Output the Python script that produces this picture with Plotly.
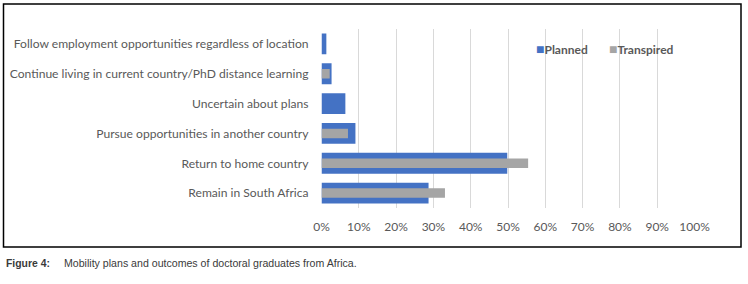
import plotly.graph_objects as go

categories = [
    "Follow employment opportunities regardless of location",
    "Continue living in current country/PhD distance learning",
    "Uncertain about plans",
    "Pursue opportunities in another country",
    "Return to home country",
    "Remain in South Africa",
]
planned = [1.3, 2.7, 6.4, 9.1, 49.8, 28.7]
transpired = [0, 2.2, 0, 7.1, 55.4, 33.1]
series_names = ["Planned", "Transpired"]
series_colors = ["#4472C4", "#A5A5A5"]
x_ticks = [0, 10, 20, 30, 40, 50, 60, 70, 80, 90, 100]
x_ticklabels = [f"{v}%" for v in x_ticks]

W, H = 748, 284
FONT = "Lato"
GREY_TXT = "#595959"

fig = go.Figure()
fig.add_trace(go.Bar(
    y=categories, x=planned, orientation="h", name=series_names[0],
    marker=dict(color=series_colors[0], line=dict(width=0)), width=0.7, showlegend=False,
))
fig.add_trace(go.Bar(
    y=categories, x=transpired, orientation="h", name=series_names[1],
    marker=dict(color=series_colors[1], line=dict(width=0)), width=0.32, showlegend=False,
))
# legend entries (coloured square + label)
for nm, col in zip(series_names, series_colors):
    fig.add_trace(go.Scatter(
        x=[None], y=[None], mode="markers",
        marker=dict(size=1, color="rgba(0,0,0,0)"),
        name=f"<span style='color:{col};font-size:14px'>■</span>{nm}", showlegend=True,
    ))
# spacer entry so the last label is not clipped by the fixed entry width
fig.add_trace(go.Scatter(x=[None], y=[None], mode="markers",
                         marker=dict(size=1, color="rgba(0,0,0,0)"),
                         name=" ", showlegend=True, hoverinfo="skip"))

x0, x1 = 321.5, 694.5
ytop, ybot = 29, 208
fig.update_layout(
    width=W, height=H, autosize=False,
    margin=dict(l=0, r=0, t=0, b=0, autoexpand=False),
    paper_bgcolor="white", plot_bgcolor="white",
    barmode="overlay",
    font=dict(family=FONT, size=12, color=GREY_TXT),
    xaxis=dict(
        domain=[x0 / W, x1 / W], range=[0, 100], automargin=False,
        tickvals=x_ticks, ticktext=x_ticklabels,
        showgrid=True, gridcolor="#D9D9D9", gridwidth=1,
        zeroline=False, showline=False, ticks="",
        tickfont=dict(family=FONT, size=12, color=GREY_TXT),
        ticklabelstandoff=10, fixedrange=True,
    ),
    yaxis=dict(
        domain=[1 - ybot / H, 1 - ytop / H], automargin=False,
        categoryorder="array", categoryarray=categories[::-1],
        showgrid=False, zeroline=False, showline=False, ticks="",
        tickfont=dict(family=FONT, size=12.1, color=GREY_TXT),
        ticklabelstandoff=12, fixedrange=True,
    ),
    legend=dict(
        orientation="h", x=496 / W, y=1 - 35 / H, xanchor="left", yanchor="top",
        bgcolor="rgba(0,0,0,0)", borderwidth=0,
        font=dict(family=FONT, size=12, color=GREY_TXT, weight="bold"),
        traceorder="normal", itemwidth=30, entrywidth=28, entrywidthmode="pixels",
    ),
    showlegend=True,
)

# white panel behind the legend (covers the gridlines like the original)
fig.add_shape(type="rect", xref="paper", yref="paper", layer="between",
              x0=530 / W, x1=698 / W, y0=1 - 67 / H, y1=1 - 33 / H,
              line=dict(width=0), fillcolor="white")

# outer frame
fig.add_shape(type="rect", xref="paper", yref="paper",
              x0=3.5 / W, x1=741 / W, y0=1 - 247 / H, y1=1 - 4 / H,
              line=dict(color="black", width=1.5), fillcolor="rgba(0,0,0,0)", layer="above")

CAP_FONT = "Liberation Sans"
fig.add_annotation(x=4 / W, y=1 - 263 / H, xref="paper", yref="paper",
                   xanchor="left", yanchor="middle", showarrow=False,
                   text="<b>Figure 4:</b>",
                   font=dict(family=CAP_FONT, size=10.4, color="#3a3a3a"))
fig.add_annotation(x=62 / W, y=1 - 263 / H, xref="paper", yref="paper",
                   xanchor="left", yanchor="middle", showarrow=False,
                   text="Mobility plans and outcomes of doctoral graduates from Africa.",
                   font=dict(family=CAP_FONT, size=10.6, color="#3a3a3a"))

fig.write_html("out.html", config={"displayModeBar": False},
               post_script="document.body.style.margin='0';document.body.style.overflow='hidden';")
